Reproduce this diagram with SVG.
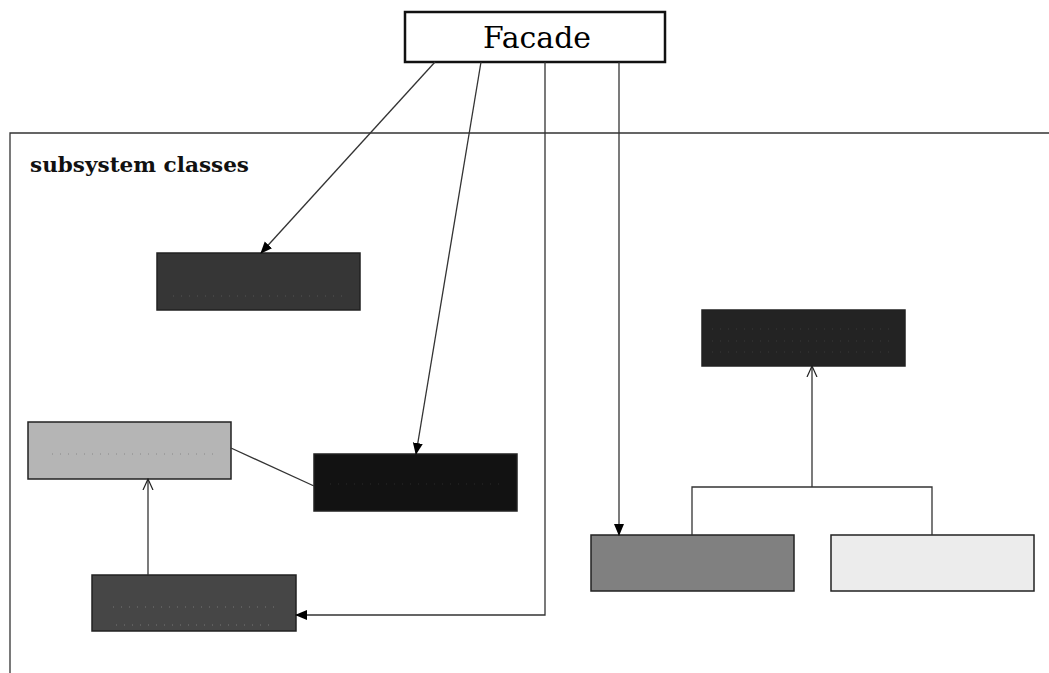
<svg xmlns="http://www.w3.org/2000/svg" width="1049" height="673" viewBox="0 0 1049 673">
<defs>
<style>
.box{stroke:#222;stroke-width:1.5}
.ln{fill:none;stroke:#333;stroke-width:1.3}
.dots{fill:none;stroke-width:1;stroke-dasharray:1 7}
</style>
<marker id="fill" viewBox="0 0 12 12" refX="11" refY="6" markerWidth="12" markerHeight="12" markerUnits="userSpaceOnUse" orient="auto">
<path d="M0,1 L12,6 L0,11 Z" fill="#000"/>
</marker>
<marker id="open" viewBox="0 0 12 12" refX="11" refY="6" markerWidth="12" markerHeight="12" markerUnits="userSpaceOnUse" orient="auto">
<path d="M0,1 L11,6 L0,11" fill="none" stroke="#222" stroke-width="1.2"/>
</marker>
</defs>
<rect width="1049" height="673" fill="#fff"/>
<g id="subsystem">
<path d="M10,673 V133 H1049" class="ln" stroke-width="1.2"/>
<text x="30" y="172" font-family="DejaVu Serif, Liberation Serif, serif" font-weight="bold" font-size="21" textLength="219" lengthAdjust="spacingAndGlyphs" fill="#111">subsystem classes</text>
</g>
<g id="facade">
<rect x="405" y="12" width="260" height="50" fill="#fff" stroke="#111" stroke-width="2.5"/>
<text x="483" y="48" font-family="DejaVu Serif, Liberation Serif, serif" font-size="29" textLength="108" lengthAdjust="spacingAndGlyphs" fill="#000">Facade</text>
</g>
<g id="boxA">
<rect class="box" x="157" y="253" width="203" height="57" fill="#363636"/>
<line class="dots" x1="173" y1="296" x2="345" y2="296" stroke="#555"/>
</g>
<g id="boxB">
<rect class="box" x="28" y="422" width="203" height="57" fill="#b5b5b5"/>
<line class="dots" x1="52" y1="454" x2="215" y2="454" stroke="#888"/>
</g>
<g id="boxC">
<rect class="box" x="314" y="454" width="203" height="57" fill="#121212"/>
<line class="dots" x1="330" y1="484" x2="500" y2="484" stroke="#2a2a2a"/>
</g>
<g id="boxD">
<rect class="box" x="92" y="575" width="204" height="56" fill="#464646"/>
<line class="dots" x1="113" y1="607" x2="280" y2="607" stroke="#777"/>
<line class="dots" x1="116" y1="625" x2="270" y2="625" stroke="#777"/>
</g>
<g id="boxE">
<rect class="box" x="702" y="310" width="203" height="56" fill="#232323"/>
<line class="dots" x1="712" y1="329" x2="895" y2="329" stroke="#3a3a3a"/>
<line class="dots" x1="712" y1="341" x2="895" y2="341" stroke="#3a3a3a"/>
<line class="dots" x1="712" y1="352" x2="895" y2="352" stroke="#3a3a3a"/>
</g>
<g id="boxF">
<rect class="box" x="591" y="535" width="203" height="56" fill="#808080"/>
</g>
<g id="boxG">
<rect class="box" x="831" y="535" width="203" height="56" fill="#ececec"/>
</g>
<g id="connectors">
<line class="ln" x1="435" y1="62" x2="261" y2="253" marker-end="url(#fill)"/>
<line class="ln" x1="481" y1="62" x2="416" y2="454" marker-end="url(#fill)"/>
<path class="ln" d="M545,62 V615 H296" marker-end="url(#fill)"/>
<line class="ln" x1="619" y1="62" x2="619" y2="535" marker-end="url(#fill)"/>
<line class="ln" x1="148" y1="575" x2="148" y2="479" marker-end="url(#open)"/>
<line class="ln" x1="231" y1="448" x2="314" y2="486"/>
<path class="ln" d="M692,535 V487 H932 V535"/>
<line class="ln" x1="812" y1="487" x2="812" y2="366" marker-end="url(#open)"/>
</g>
</svg>
